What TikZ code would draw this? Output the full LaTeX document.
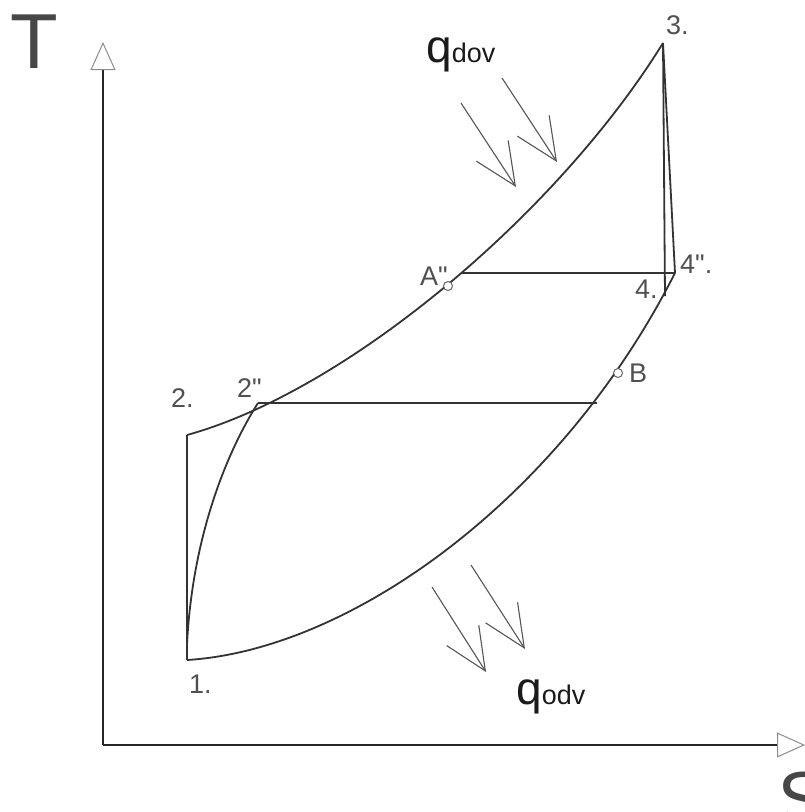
\documentclass[tikz,border=0pt]{standalone}
\usepackage{fontspec}
\setmainfont{Liberation Sans}[Ligatures=TeXOff]
\usetikzlibrary{arrows.meta}
\definecolor{ln}{HTML}{333333}
\definecolor{lbl}{HTML}{505050}
\definecolor{harrow}{HTML}{555555}
\definecolor{qcol}{HTML}{1A1A1A}
\begin{document}
\begin{tikzpicture}[x=1pt,y=-1pt,
  cyc/.style={draw=ln,line width=1.8pt},
  axis/.style={draw=black!85,line width=1.5pt,
    -{Triangle[open,length=28pt,width=25pt,line width=1pt,color=black!45]}},
  lab/.style={text=lbl,inner sep=0pt,font=\fontsize{27}{27}\selectfont},
  big/.style={text=black!72,inner sep=0pt,font=\fontsize{78}{78}\selectfont},
  heat/.style={draw=harrow,line width=1.1pt,-{Straight Barb[length=42pt,width=38pt]}},
  mark circ/.style={draw=black!60,line width=1pt,fill=white,circle,minimum size=9pt,inner sep=0pt}]
\useasboundingbox (0,0) rectangle (805,812);
% axes
\coordinate (O) at (103,745);
\coordinate (ytip) at (103,42);
\coordinate (xtip) at (805,745);
\draw[axis] (O) -- (ytip);
\draw[axis] (O) -- (xtip);
\node[big] (T) at (34,42) {T};
\node[big,anchor=north west] (S) at (777,772) {S};
% cycle points
\coordinate (p1) at (187,660);
\coordinate (p2) at (187,435);
\coordinate (p2pp) at (258,403);
\coordinate (p3) at (663,43);
\coordinate (p4) at (665,296);
\coordinate (p4pp) at (675,273);
\coordinate (c1) at (187,645);
\coordinate (b2) at (597,403);
\coordinate (a2) at (462,273);
% cycle lines
\draw[cyc] (p1) -- (p2);
\draw[cyc] (p2) .. controls (350,390) and (560,210) .. (p3);
\draw[cyc] (p3) -- (p4);
\draw[cyc] (p3) -- (p4pp);
\draw[cyc] (p1) .. controls (350,650) and (560,500) .. (p4pp);
\draw[cyc] (c1) .. controls (192,540) and (225,455) .. (p2pp);
\draw[cyc] (p2pp) -- (b2);
\draw[cyc] (a2) -- (p4pp);
% marked points
\node[mark circ] (A) at (448,286) {};
\node[mark circ] (B) at (618,373) {};
% labels
\node[lab,anchor=north west] (l3) at (666,15) {3.};
\node[lab,anchor=north west] (l4pp) at (680,255) {4".};
\node[lab,anchor=north west] (l4) at (635,280) {4.};
\node[lab,anchor=north west] (lA) at (420,267) {A"};
\node[lab,anchor=north west] (lB) at (629,364) {B};
\node[lab,anchor=north west] (l2pp) at (237,378) {2"};
\node[lab,anchor=north west] (l2) at (171,388) {2.};
\node[lab,anchor=north west] (l1) at (189,675) {1.};
% heat labels
\node[anchor=base west,inner sep=0pt,text=qcol] (qdov) at (426,62)
  {{\fontsize{46}{46}\selectfont q}{\fontsize{27}{27}\selectfont dov}};
\node[anchor=base west,inner sep=0pt,text=qcol] (qodv) at (516,704)
  {{\fontsize{46}{46}\selectfont q}{\fontsize{27}{27}\selectfont odv}};
% heat arrows
\coordinate (h1s) at (461,103); \coordinate (h1e) at (516,187);
\coordinate (h2s) at (502,78);  \coordinate (h2e) at (557,162);
\coordinate (h3s) at (432,587); \coordinate (h3e) at (486,672);
\coordinate (h4s) at (471,565); \coordinate (h4e) at (525,649);
\draw[heat] (h1s) -- (h1e);
\draw[heat] (h2s) -- (h2e);
\draw[heat] (h3s) -- (h3e);
\draw[heat] (h4s) -- (h4e);
\end{tikzpicture}
\end{document}
